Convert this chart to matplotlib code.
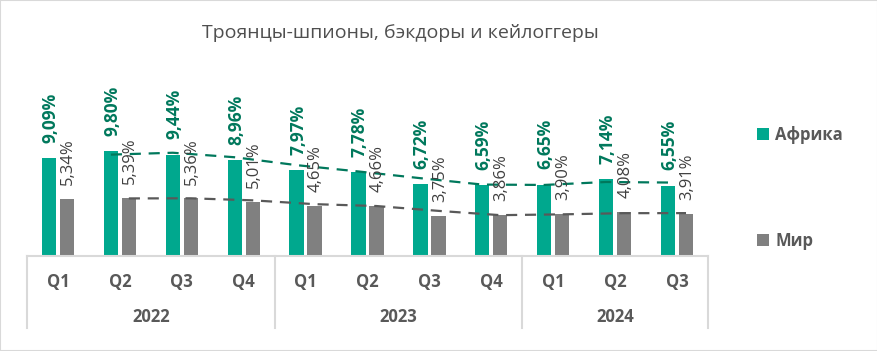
import matplotlib
matplotlib.use("Agg")
import matplotlib.pyplot as plt
import matplotlib.transforms as mtransforms
from matplotlib.patches import Rectangle
import numpy as np

plt.rcParams['font.family'] = ['Open Sans', 'DejaVu Sans']

# data
quarters = ["Q1", "Q2", "Q3", "Q4", "Q1", "Q2", "Q3", "Q4", "Q1", "Q2", "Q3"]
years = ["2022", "2023", "2024"]
year_spans = [(0, 3), (4, 7), (8, 10)]
africa = [9.09, 9.80, 9.44, 8.96, 7.97, 7.78, 6.72, 6.59, 6.65, 7.14, 6.55]
world = [5.34, 5.39, 5.36, 5.01, 4.65, 4.66, 3.75, 3.86, 3.90, 4.08, 3.91]
series_names = ["Африка", "Мир"]

c_africa = "#00a88e"
c_africa_txt = "#00785c"
c_world = "#808080"
c_world_txt = "#404040"
c_axis = "#d9d9d9"
c_text = "#595959"


def fmt(v):
    return f"{v:.2f}".replace(".", ",") + "%"


def moving_avg(vals):
    return [(vals[i - 1] + vals[i]) / 2 for i in range(1, len(vals))]


fig = plt.figure(figsize=(8.78, 3.51), dpi=100)
ax = fig.add_axes([27 / 878, 95 / 351, 681 / 878, 161 / 351])

x = np.arange(len(quarters))
w = 0.23
off = 0.145
b1 = ax.bar(x - off, africa, w, color=c_africa, label=series_names[0])
b2 = ax.bar(x + off, world, w, color=c_world, label=series_names[1])

# moving average trendlines (period 2)
ax.plot(x[1:] - off, moving_avg(africa), ls=(0, (5, 3.5)), color=c_africa_txt, lw=1.6)
ax.plot(x[1:] + off, moving_avg(world), ls=(0, (5, 3.5)), color=c_text, lw=1.6)

# data labels
for xi, v in zip(x, africa):
    ax.annotate(fmt(v), (xi - off, v), xytext=(1, 11), textcoords="offset points",
                rotation=90, ha="center", va="bottom", fontsize=12.5,
                fontweight="bold", color=c_africa_txt)
for xi, v in zip(x, world):
    ax.annotate(fmt(v), (xi + off, v), xytext=(1, 10), textcoords="offset points",
                rotation=90, ha="center", va="bottom", fontsize=12,
                color=c_world_txt)

ax.set_xlim(-0.5, len(quarters) - 0.5)
ax.set_ylim(0, 15)
for s in ["top", "right", "left"]:
    ax.spines[s].set_visible(False)
ax.spines["bottom"].set_color(c_axis)
ax.spines["bottom"].set_linewidth(1.5)
ax.set_yticks([])
ax.set_xticks([])

# two-level category axis
trans = mtransforms.blended_transform_factory(ax.transData, ax.transAxes)
for xi, q in zip(x, quarters):
    ax.text(xi, -0.16, q, transform=trans, ha="center", va="center",
            fontsize=12, fontweight="bold", color=c_text)
seps = [-0.5] + [e + 0.5 for _, e in year_spans]
for sx in seps:
    ax.plot([sx, sx], [0, -0.447], transform=trans, color=c_axis, lw=1.5,
            clip_on=False)
for yr, (s, e) in zip(years, year_spans):
    ax.text((s + e) / 2, -0.38, yr, transform=trans, ha="center", va="center",
            fontsize=12, fontweight="bold", color=c_text)

fig.text(400 / 878, 1 - 33 / 351, "Троянцы-шпионы, бэкдоры и кейлоггеры",
         ha="center", va="center", fontsize=14, color="#4f4f4f")

fig.legend(handles=[b1, b2], loc="center left",
           bbox_to_anchor=(742 / 878, 1 - 188 / 351), frameon=False,
           labelspacing=5.3, handlelength=0.7, handleheight=0.7,
           handletextpad=0.4, prop={"size": 12, "weight": "bold"},
           labelcolor=c_text)

fig.patches.append(Rectangle((0, 0), 1, 1, transform=fig.transFigure,
                             fill=False, edgecolor=c_axis, lw=1.5))

fig.savefig("out.png", dpi=100)
